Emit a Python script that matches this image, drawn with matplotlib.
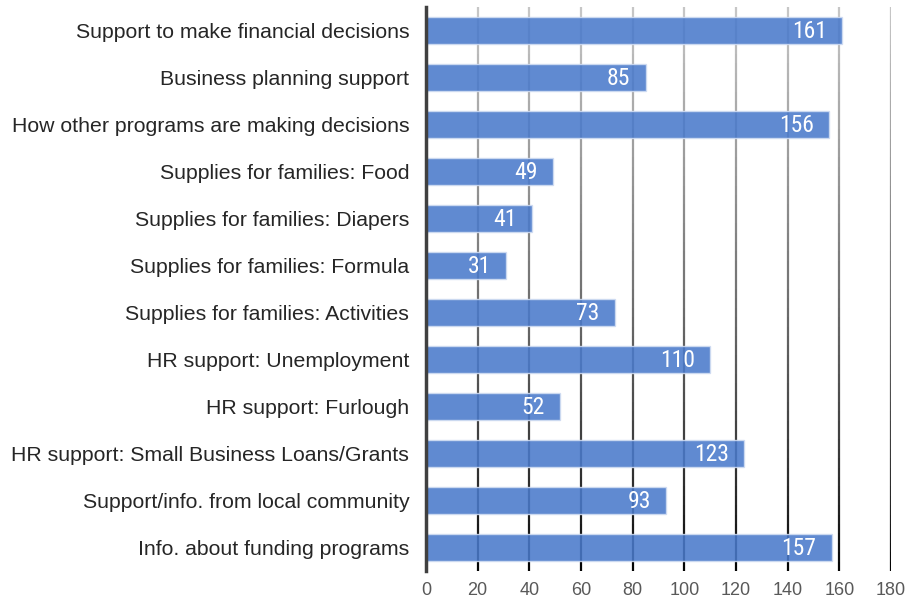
import numpy as np
import matplotlib
matplotlib.use('Agg')
import matplotlib.pyplot as plt
from matplotlib.collections import LineCollection
from matplotlib import font_manager

labels = ['Support to make financial decisions', 'Business planning support',
          'How other programs are making decisions', 'Supplies for families: Food',
          'Supplies for families: Diapers', 'Supplies for families: Formula',
          'Supplies for families: Activities', 'HR support: Unemployment',
          'HR support: Furlough', 'HR support: Small Business Loans/Grants',
          'Support/info. from local community', 'Info. about funding programs']
values = [161, 85, 156, 49, 41, 31, 73, 110, 52, 123, 93, 157]
xticks = [0, 20, 40, 60, 80, 100, 120, 140, 160, 180]

names = {f.name for f in font_manager.fontManager.ttflist}
narrow = 'Liberation Sans'
for cand in ['Liberation Sans Narrow', 'Roboto Condensed', 'Open Sans Condensed', 'Arial Narrow']:
    if cand in names:
        narrow = cand
        break
plt.rcParams['font.family'] = ['Liberation Sans', 'DejaVu Sans']

fig = plt.figure(figsize=(9.07, 6.05), dpi=100)
ax = fig.add_axes([0.4697, 0.0562, 0.5127, 0.9322])

y = np.arange(len(labels))
ax.set_ylim(len(labels) - 0.5, -0.5)
ax.set_xlim(0, 180)

# gridlines fading from light grey at top to black at bottom
n = 60
ts = np.linspace(0, 1, n + 1)
ylo, yhi = ax.get_ylim()
for xt in xticks[1:]:
    segs = []
    cols = []
    for i in range(n):
        ya = yhi + (ylo - yhi) * ts[i]
        yb = yhi + (ylo - yhi) * ts[i + 1]
        segs.append([(xt, ya), (xt, yb)])
        g = 0.78 * (1 - (ts[i] + ts[i + 1]) / 2) ** 0.8
        cols.append((g, g, g))
    ax.add_collection(LineCollection(segs, colors=cols, linewidths=1.6, zorder=1))

ax.barh(y, values, height=0.58, color='#4a7acb', alpha=0.88,
        edgecolor='#d0dcf2', linewidth=1, zorder=2)
fs = 17 if narrow != 'Liberation Sans' else 16
for yi, v in zip(y, values):
    ax.annotate(str(v), (v, yi), xytext=(-11, -1), textcoords='offset points',
                ha='right', va='center', color='white', fontsize=fs, family=narrow, zorder=3)

ax.set_yticks(y)
ax.set_yticklabels(labels, fontsize=15.3, color='#262626')
ax.set_xticks(xticks)
ax.set_xticklabels([str(t) for t in xticks], fontsize=13, color='#595959')
ax.tick_params(axis='y', length=0, pad=12)
ax.tick_params(axis='x', length=0, pad=8)
for s in ['top', 'right', 'bottom']:
    ax.spines[s].set_visible(False)
ax.spines['left'].set_color('#404040')
ax.spines['left'].set_linewidth(2.5)
ax.spines['left'].set_zorder(4)

fig.savefig('out.png', dpi=100)
